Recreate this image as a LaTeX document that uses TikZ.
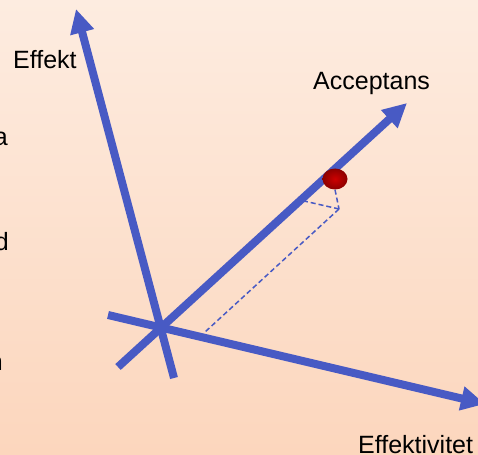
\documentclass[tikz,border=0pt]{standalone}
\usepackage{fontspec}
\setmainfont{Liberation Sans}
\usetikzlibrary{arrows.meta,shapes.geometric}
\definecolor{axisblue}{RGB}{72,90,196}
\definecolor{bgtop}{RGB}{253,236,224}
\definecolor{bgbot}{RGB}{252,214,189}
\definecolor{dotin}{RGB}{205,0,0}
\definecolor{dotout}{RGB}{140,0,0}
\begin{document}
\begin{tikzpicture}[x=1pt,y=-1pt,
  axis/.style={draw=axisblue, line width=8pt, -{Triangle[length=24pt,width=23pt]}},
  proj/.style={draw=axisblue, line width=1.5pt, dash pattern=on 5pt off 3pt},
  lbl/.style={inner sep=0pt, font=\fontsize{25}{30}\selectfont, text=black}]
\useasboundingbox (0,0) rectangle (478,454);
\shade[top color=bgtop, bottom color=bgbot] (0,0) rectangle (478,454);
% left cut-off text fragments
\node[lbl, anchor=base east] (ta) at (8,146) {a};
\node[lbl, anchor=base east] (td) at (9,250) {d};
\node[lbl, anchor=base east] (tn) at (3,370) {n};
% axis endpoints
\coordinate (effA) at (174,378);
\coordinate (effB) at (76,9);
\coordinate (accA) at (118,367);
\coordinate (accB) at (407,103);
\coordinate (evA) at (108,315);
\coordinate (evB) at (485,404);
% dashed projection points
\coordinate (corner) at (339,209);
\coordinate (onacc) at (304,201);
\coordinate (onev) at (205,332);
\draw[proj] (corner) -- (onacc);
\draw[proj] (corner) -- (onev);
\draw[axis] (evA) -- (evB);
\draw[axis] (accA) -- (accB);
\draw[axis] (effA) -- (effB);
\node[ellipse, inner sep=0pt, minimum width=25pt, minimum height=21pt, shade, inner color=dotin, outer color=dotout] (dot) at (335,179) {};
\draw[proj] (dot.south) -- (corner);
\node[lbl, anchor=base west] (leff) at (13,69) {Effekt};
\node[lbl, anchor=base west] (lacc) at (313,90) {Acceptans};
\node[lbl, anchor=base west] (lev) at (358,453) {Effektivitet};
\end{tikzpicture}
\end{document}
